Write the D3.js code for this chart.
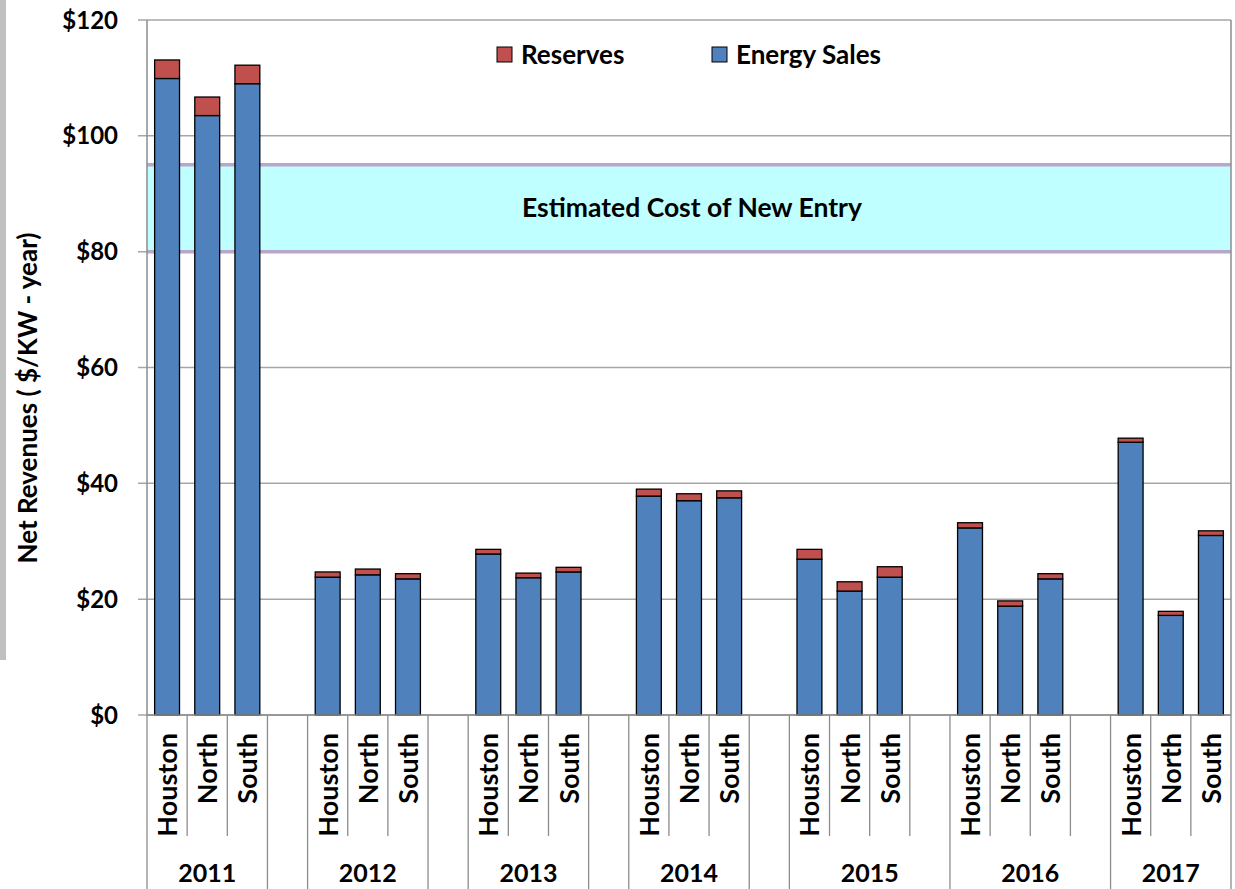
<!DOCTYPE html>
<html>
<head>
<meta charset="utf-8">
<script src="https://cdn.jsdelivr.net/npm/d3@7.9.0/dist/d3.min.js"></script>
<style>
  body { margin: 0; background: #fff; }
  svg { display: block; }
  text { font-family: Lato, "Open Sans", sans-serif; font-weight: bold; fill: #000; }
</style>
</head>
<body>
<svg width="1235" height="889"></svg>
<script>
const years = ["2011", "2012", "2013", "2014", "2015", "2016", "2017"];
const regions = ["Houston", "North", "South"];
const energySales = [109.9, 103.5, 109.0, 23.8, 24.2, 23.5, 27.8, 23.7, 24.7,
  37.8, 37.0, 37.5, 26.9, 21.4, 23.8, 32.3, 18.8, 23.5, 47.1, 17.2, 31.0];
const reserves = [3.2, 3.2, 3.2, 0.9, 1.0, 0.9, 0.8, 0.8, 0.8,
  1.2, 1.2, 1.2, 1.7, 1.6, 1.8, 0.9, 0.9, 0.9, 0.7, 0.7, 0.8];
const yTicks = [0, 20, 40, 60, 80, 100, 120];
const coneRange = [80, 95];
// does the empty slot after a year belong to that year's label span?
const gapJoined = [false, false, false, false, true, true];

const svg = d3.select('svg');
const mLeft = 147, mRight = 1231, mTop = 20, mBottom = 715;

// build the category slots: 3 regions per year + an empty slot between years
let slots = [];
let barIdx = 0;
years.forEach((yr, i) => {
  regions.forEach(r => {
    slots.push({ group: yr, label: yr, region: r, e: energySales[barIdx], r: reserves[barIdx] });
    barIdx++;
  });
  if (i < years.length - 1) {
    slots.push({ group: gapJoined[i] ? yr : 'gap' + i, label: gapJoined[i] ? yr : '', region: '' });
  }
});

const x = d3.scaleBand().domain(d3.range(slots.length)).range([mLeft, mRight]);
const y = d3.scaleLinear().domain([0, 120]).range([mBottom, mTop]);

// gray strip on the left edge
svg.append('rect').attr('x', 0).attr('y', 0).attr('width', 6).attr('height', 660).attr('fill', '#c0c0c0');

// gridlines
svg.selectAll('.grid').data(yTicks).join('line')
  .attr('x1', mLeft - 9).attr('x2', mRight)
  .attr('y1', d => y(d)).attr('y2', d => y(d))
  .attr('stroke', '#a6a6a6').attr('stroke-width', 1.5);

// cost of new entry band
svg.append('rect')
  .attr('x', mLeft).attr('width', mRight - mLeft)
  .attr('y', y(coneRange[1])).attr('height', y(coneRange[0]) - y(coneRange[1]))
  .attr('fill', '#bfffff');
coneRange.forEach(v => {
  svg.append('line').attr('x1', mLeft).attr('x2', mRight).attr('y1', y(v)).attr('y2', y(v))
    .attr('stroke', '#b7a8cb').attr('stroke-width', 3.5);
});
svg.append('text').attr('x', 692).attr('y', y(d3.mean(coneRange)) + 9)
  .attr('text-anchor', 'middle').style('font-size', '26.5px')
  .text('Estimated Cost of New Entry');

// bars
const bw = x.bandwidth() * 0.62;
const bars = svg.append('g');
slots.forEach((d, i) => {
  if (d.region === '') return;
  const bx = x(i) + (x.bandwidth() - bw) / 2;
  bars.append('rect').attr('x', bx).attr('width', bw)
    .attr('y', y(d.e)).attr('height', y(0) - y(d.e))
    .attr('fill', '#4f81bd').attr('stroke', '#000').attr('stroke-width', 1.3);
  bars.append('rect').attr('x', bx).attr('width', bw)
    .attr('y', y(d.e + d.r)).attr('height', y(d.e) - y(d.e + d.r))
    .attr('fill', '#c0504d').attr('stroke', '#000').attr('stroke-width', 1.3);
});

// axes lines
const axisColor = '#8c8c8c';
svg.append('line').attr('x1', mLeft).attr('x2', mLeft).attr('y1', mTop).attr('y2', mBottom).attr('stroke', axisColor).attr('stroke-width', 1.5);
svg.append('line').attr('x1', mRight).attr('x2', mRight).attr('y1', mTop).attr('y2', mBottom).attr('stroke', axisColor).attr('stroke-width', 1.5);
svg.append('line').attr('x1', mLeft).attr('x2', mRight).attr('y1', mBottom).attr('y2', mBottom).attr('stroke', axisColor).attr('stroke-width', 1.5);

// y tick labels
svg.selectAll('.ylab').data(yTicks).join('text')
  .attr('x', 118).attr('y', d => y(d) + 8.5)
  .attr('text-anchor', 'end').style('font-size', '24px')
  .text(d => '$' + d);

svg.append('text')
  .attr('transform', 'translate(37,398) rotate(-90)')
  .attr('text-anchor', 'middle').style('font-size', '26px')
  .text('Net Revenues ( $/KW - year)');

// category dividers: full height at group edges, short otherwise
for (let i = 0; i <= slots.length; i++) {
  const xb = i < slots.length ? x(i) : mRight;
  const isEdge = i === 0 || i === slots.length || slots[i].group !== slots[i - 1].group;
  svg.append('line').attr('x1', xb).attr('x2', xb)
    .attr('y1', mBottom).attr('y2', isEdge ? 889 : 836)
    .attr('stroke', axisColor).attr('stroke-width', 1.3);
}

// region labels
slots.forEach((d, i) => {
  if (d.region === '') return;
  svg.append('text')
    .attr('transform', `translate(${x(i) + x.bandwidth() / 2 + 10},733) rotate(-90)`)
    .attr('text-anchor', 'end').style('font-size', '27px')
    .text(d.region);
});

// year labels centered on their span
const groups = d3.groups(slots.map((d, i) => ({ ...d, i })), d => d.group);
groups.forEach(([g, items]) => {
  if (items[0].label === '') return;
  const x0 = x(items[0].i), x1 = x(items[items.length - 1].i) + x.bandwidth();
  svg.append('text').attr('x', (x0 + x1) / 2).attr('y', 882)
    .attr('text-anchor', 'middle').style('font-size', '25px')
    .text(items[0].label);
});

// legend
const legend = [{ name: 'Reserves', color: '#c0504d', x: 497 }, { name: 'Energy Sales', color: '#4f81bd', x: 712 }];
legend.forEach(l => {
  svg.append('rect').attr('x', l.x).attr('y', 47).attr('width', 15).attr('height', 15)
    .attr('fill', l.color).attr('stroke', '#000').attr('stroke-width', 1);
  svg.append('text').attr('x', l.x + 24).attr('y', 64).style('font-size', '26px').text(l.name);
});
</script>
</body>
</html>
